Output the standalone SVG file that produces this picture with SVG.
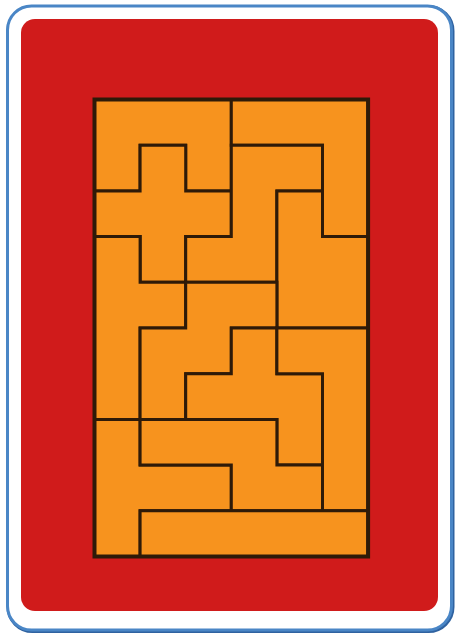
<svg xmlns="http://www.w3.org/2000/svg" width="460" height="637" viewBox="0 0 460 637">
<style>
.piece{fill:#f7931e;stroke:#2e1a08;stroke-width:3;stroke-linejoin:miter}
</style>
<rect x="0" y="0" width="460" height="637" fill="#ffffff"/>
<g id="card">
<rect x="8.5" y="7" width="444" height="624" rx="24" fill="#ffffff" stroke="#2f62a0" stroke-width="4"/>
<rect x="7.5" y="6" width="444" height="624" rx="24" fill="#ffffff" stroke="#4a86c6" stroke-width="3"/>
<rect x="21" y="19" width="417" height="592" rx="14" fill="#d01b1b"/>
</g>
<g id="pieces">
<polygon id="U" class="piece" points="94.5,99.5 231.3,99.5 231.3,190.9 185.7,190.9 185.7,145.2 140.1,145.2 140.1,190.9 94.5,190.9"/>
<polygon id="X" class="piece" points="140.1,145.2 185.7,145.2 185.7,190.9 231.3,190.9 231.3,236.6 185.7,236.6 185.7,282.3 140.1,282.3 140.1,236.6 94.5,236.6 94.5,190.9 140.1,190.9"/>
<polygon id="V" class="piece" points="231.3,99.5 368.1,99.5 368.1,236.6 322.5,236.6 322.5,145.2 231.3,145.2"/>
<polygon id="Z" class="piece" points="231.3,145.2 322.5,145.2 322.5,190.9 276.9,190.9 276.9,282.3 185.7,282.3 185.7,236.6 231.3,236.6"/>
<polygon id="P" class="piece" points="276.9,190.9 322.5,190.9 322.5,236.6 368.1,236.6 368.1,328 276.9,328"/>
<polygon id="Y" class="piece" points="94.5,236.6 140.1,236.6 140.1,282.3 185.7,282.3 185.7,328 140.1,328 140.1,419.4 94.5,419.4"/>
<polygon id="W" class="piece" points="185.7,282.3 276.9,282.3 276.9,328 231.3,328 231.3,373.7 185.7,373.7 185.7,419.4 140.1,419.4 140.1,328 185.7,328"/>
<polygon id="F" class="piece" points="231.3,328 276.9,328 276.9,373.7 322.5,373.7 322.5,465.1 276.9,465.1 276.9,419.4 185.7,419.4 185.7,373.7 231.3,373.7"/>
<polygon id="L" class="piece" points="276.9,328 368.1,328 368.1,510.8 322.5,510.8 322.5,373.7 276.9,373.7"/>
<polygon id="T" class="piece" points="94.5,419.4 140.1,419.4 140.1,465.1 231.3,465.1 231.3,510.8 140.1,510.8 140.1,556.5 94.5,556.5"/>
<polygon id="N" class="piece" points="140.1,419.4 276.9,419.4 276.9,465.1 322.5,465.1 322.5,510.8 231.3,510.8 231.3,465.1 140.1,465.1"/>
<polygon id="I" class="piece" points="140.1,510.8 368.1,510.8 368.1,556.5 140.1,556.5"/>
<rect x="94.5" y="99.5" width="273.6" height="457" fill="none" stroke="#2e1a08" stroke-width="4"/>
</g>
</svg>
